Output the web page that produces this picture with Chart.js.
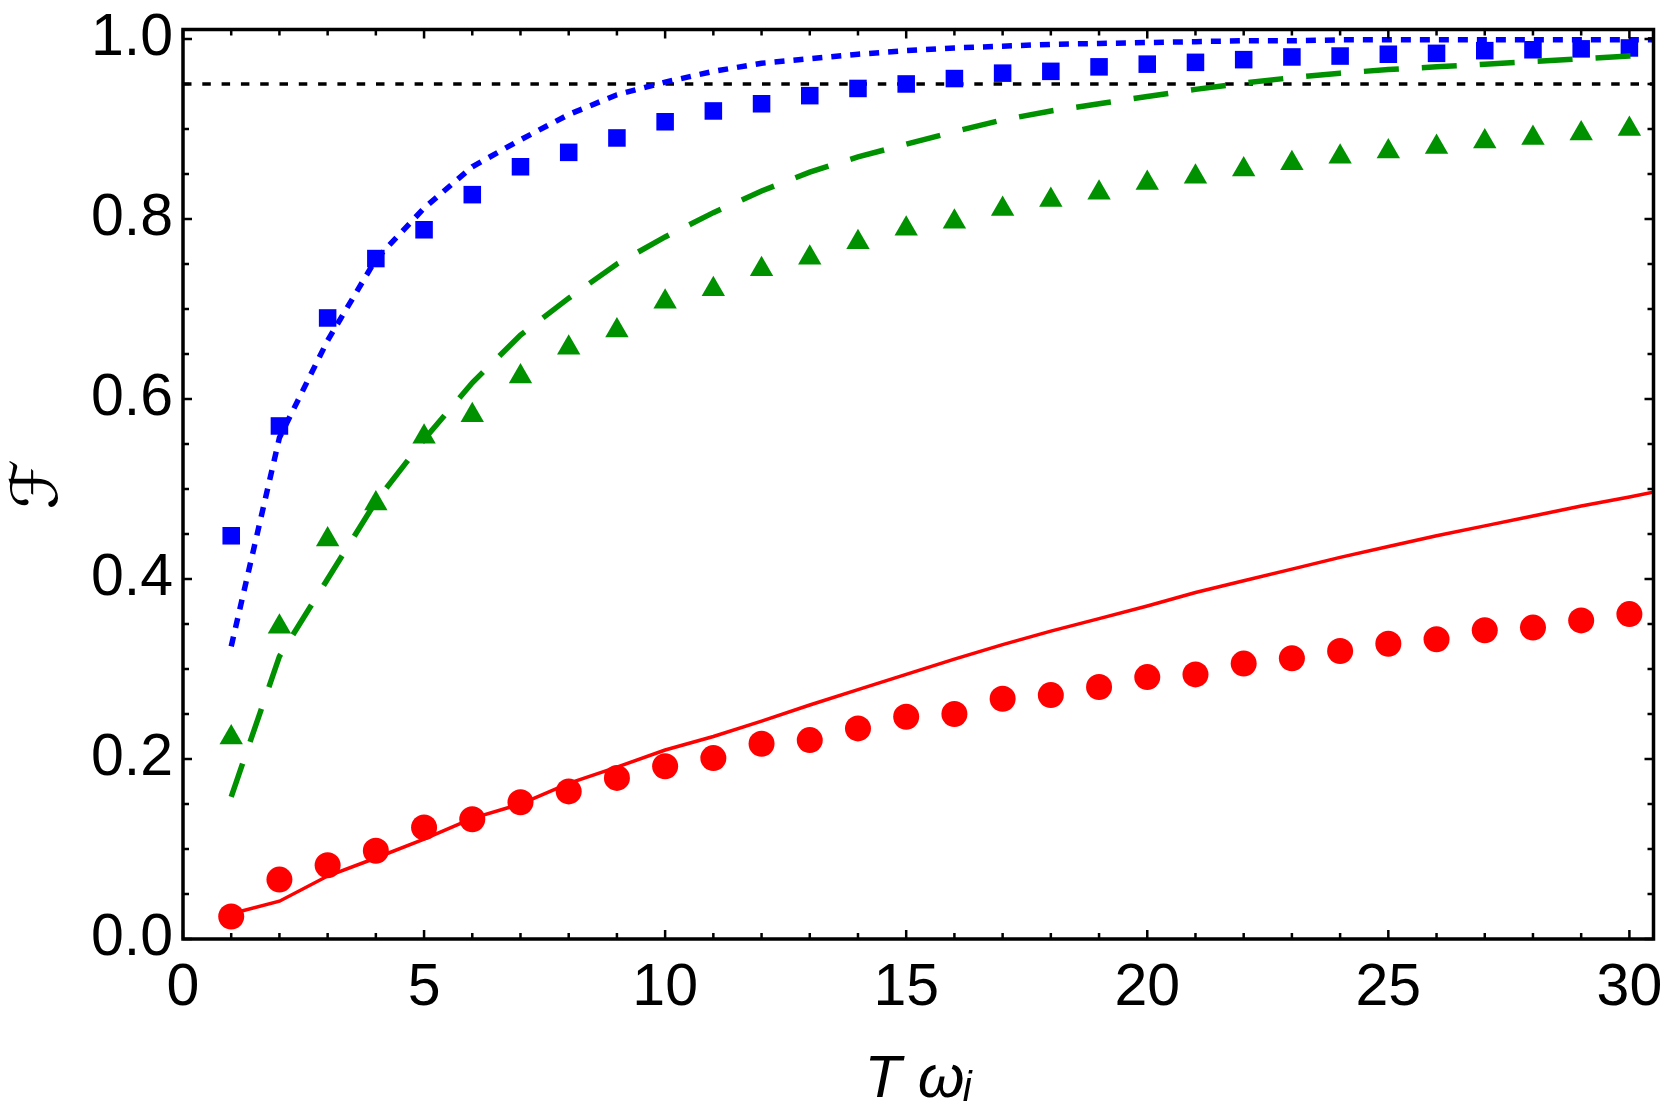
<!DOCTYPE html>
<html><head><meta charset="utf-8">
<script src="https://cdn.jsdelivr.net/npm/chart.js@4/dist/chart.umd.min.js"></script>
<style>html,body{margin:0;padding:0;background:#fff}canvas{display:block}</style>
</head><body>
<canvas id="c" width="1667" height="1115"></canvas>
<script>
// ---- data ----
const pointX = [1,2,3,4,5,6,7,8,9,10,11,12,13,14,15,16,17,18,19,20,21,22,23,24,25,26,27,28,29,30];
const redDots = [0.025,0.066,0.082,0.098,0.124,0.133,0.152,0.164,0.179,0.192,0.201,0.217,0.221,0.234,0.247,0.250,0.267,0.271,0.280,0.291,0.294,0.306,0.312,0.320,0.328,0.333,0.343,0.346,0.354,0.361];
const greenTriangles = [0.224,0.347,0.444,0.484,0.558,0.582,0.625,0.657,0.676,0.708,0.722,0.744,0.757,0.774,0.789,0.797,0.811,0.821,0.829,0.840,0.847,0.855,0.862,0.869,0.875,0.880,0.886,0.890,0.895,0.900];
const blueSquares = [0.448,0.570,0.690,0.756,0.788,0.827,0.858,0.874,0.890,0.908,0.920,0.928,0.937,0.945,0.950,0.956,0.962,0.964,0.969,0.972,0.974,0.977,0.980,0.981,0.983,0.984,0.987,0.988,0.989,0.990];

const lineX = [1,2,3,4,5,6,7,8,9,10,11,12,13,14,15,16,17,18,19,20,21,22,23,24,25,26,27,28,29,30,31];
const redCurve = [0.028,0.042,0.070,0.090,0.111,0.134,0.150,0.173,0.191,0.210,0.225,0.242,0.260,0.277,0.294,0.311,0.327,0.342,0.356,0.370,0.385,0.398,0.411,0.424,0.436,0.448,0.459,0.470,0.481,0.491,0.502];
const greenCurve = [0.158,0.314,0.400,0.486,0.555,0.618,0.671,0.712,0.750,0.780,0.807,0.831,0.852,0.869,0.883,0.897,0.910,0.920,0.928,0.936,0.944,0.951,0.957,0.962,0.966,0.969,0.972,0.975,0.978,0.981,0.983];
const blueCurve = [0.325,0.557,0.665,0.755,0.812,0.858,0.888,0.916,0.938,0.952,0.964,0.973,0.978,0.983,0.987,0.990,0.992,0.994,0.995,0.996,0.997,0.998,0.998,0.999,0.999,0.999,0.999,0.999,0.999,0.999,0.999];

const thresholdX = [0, 31];
const thresholdY = [0.95, 0.95];

const xTickValues = [0,5,10,15,20,25,30];
const xTickLabels = ['0','5','10','15','20','25','30'];
const yTickValues = [0,0.2,0.4,0.6,0.8,1.0];
const yTickLabels = ['0.0','0.2','0.4','0.6','0.8','1.0'];

const xTitle = 'T ωᵢ';
const yTitle = 'ℱ';

// ---- helpers ----
const pts = (xs, ys) => xs.map((x, i) => ({x: x, y: ys[i]}));
const FONT = "'Liberation Sans', Arial, Helvetica, sans-serif";
const RED = 'rgb(255,0,0)', GREEN = 'rgb(0,145,0)', BLUE = 'rgb(0,0,255)';

const framePlugin = {
  id: 'frame',
  afterDatasetsDraw(chart) {
    const {ctx, chartArea: a, scales: {x, y}} = chart;
    ctx.save();
    ctx.strokeStyle = '#000';
    ctx.lineWidth = 2.5;
    ctx.beginPath();
    for (let v = 0; v <= 30; v++) {
      const px = x.getPixelForValue(v);
      const len = v % 5 === 0 ? 9 : 6;
      ctx.moveTo(px, a.bottom); ctx.lineTo(px, a.bottom - len);
      ctx.moveTo(px, a.top); ctx.lineTo(px, a.top + len);
    }
    for (let i = 0; i <= 20; i++) {
      const py = y.getPixelForValue(i * 0.05);
      const len = i % 4 === 0 ? 9 : 6;
      ctx.moveTo(a.left, py); ctx.lineTo(a.left + len, py);
      ctx.moveTo(a.right, py); ctx.lineTo(a.right - len, py);
    }
    ctx.stroke();
    ctx.lineWidth = 3.5;
    ctx.strokeRect(a.left, a.top, a.right - a.left, a.bottom - a.top);
    ctx.restore();
  }
};

const lineDs = (data, color, width, dash) => ({
  data, showLine: true, borderColor: color, borderWidth: width, borderDash: dash,
  borderCapStyle: 'butt', pointRadius: 0, tension: 0, fill: false, clip: 0
});
const pointDs = (data, color, style, r) => ({
  data, showLine: false, backgroundColor: color, borderColor: color, pointBackgroundColor: color,
  pointBorderWidth: 0, pointStyle: style, pointRadius: r, clip: false
});
const noPad = s => { s.paddingLeft = 0; s.paddingRight = 0; s.paddingTop = 0; s.paddingBottom = 0; };

new Chart(document.getElementById('c'), {
  type: 'scatter',
  data: {
    datasets: [
      lineDs(pts(lineX, blueCurve), BLUE, 5.5, [10, 9]),
      lineDs(pts(lineX, greenCurve), GREEN, 5.5, [35, 23]),
      lineDs(pts(lineX, redCurve), RED, 3.5, []),
      pointDs(pts(pointX, blueSquares), BLUE, 'rect', 12.4),
      pointDs(pts(pointX, greenTriangles), GREEN, 'triangle', 13.5),
      pointDs(pts(pointX, redDots), RED, 'circle', 13),
      lineDs(pts(thresholdX, thresholdY), '#000', 3.5, [8.5, 10.8])
    ]
  },
  options: {
    responsive: false, animation: false, devicePixelRatio: 1,
    layout: {padding: {left: 0, right: 11, top: 29.5, bottom: 0}},
    plugins: {legend: {display: false}, tooltip: {enabled: false}},
    scales: {
      x: {
        type: 'linear', min: 0, max: 30.5,
        grid: {display: false, drawTicks: false}, border: {display: false},
        afterBuildTicks: s => { s.ticks = xTickValues.map(v => ({value: v})); },
        afterFit: s => { s.height = 176; noPad(s); },
        ticks: {font: {family: FONT, size: 59, lineHeight: 1}, color: '#000', padding: 20,
                maxRotation: 0, autoSkip: false, callback: (v, i) => xTickLabels[i]},
        title: {display: true, text: xTitle, color: '#000',
                font: {family: FONT, size: 60, style: 'italic', lineHeight: 1},
                padding: {top: 0, bottom: 5}}
      },
      y: {
        type: 'linear', min: 0, max: 1.0105,
        grid: {display: false, drawTicks: false}, border: {display: false},
        afterBuildTicks: s => { s.ticks = yTickValues.map(v => ({value: v})); },
        afterFit: s => { s.width = 183; noPad(s); },
        ticks: {font: {family: FONT, size: 59, lineHeight: 1}, color: '#000', padding: 10,
                autoSkip: false, callback: (v, i) => yTickLabels[i]},
        title: {display: true, text: yTitle, color: '#000',
                font: {family: "'DejaVu Sans', sans-serif", size: 64, lineHeight: 1},
                padding: {top: 8, bottom: 0}}
      }
    }
  },
  plugins: [framePlugin]
});
</script>
</body></html>
